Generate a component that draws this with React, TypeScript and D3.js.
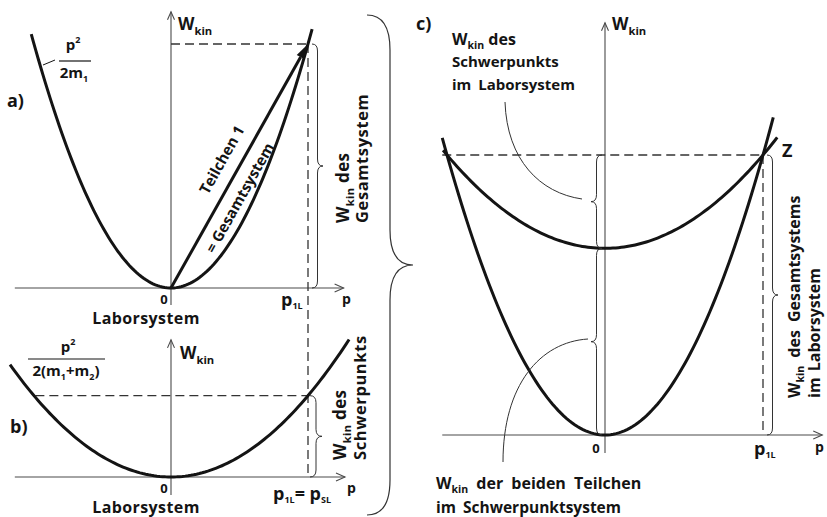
import React from 'react';
import * as d3 from 'd3';

// Masses of the two particles (m1 moving, m2 at rest) and lab momentum of particle 1
const masses = [1, 2];
const P1L = 1;

// Momentum ranges over which each parabola is drawn
const domainA = [-1.02, 1.03];
const domainB = [-1.175, 1.3];
const domainCLab = [-1.03, 1.065];
const domainCCm = [-1.025, 1.09];

// Axis extents (momentum / energy units)
const axisA = { p: [-1.14, 1.26], w: [-0.035, 0.566] };
const axisB = { p: [-1.14, 1.27], w: [-0.037, 0.281] };
const axisC = { p: [-1.03, 1.375], w: [-0.032, 0.736] };
const dashStartB = -0.99;

const panelLabels = ['a)', 'b)', 'c)'];

const m1 = masses[0];
const M = masses[0] + masses[1];
const wLab = (p: number) => (p * p) / (2 * m1);
const wCm = (p: number) => (p * p) / (2 * M);
const W1 = wLab(P1L);
const WS = wCm(P1L);
const Erel = W1 - WS;

const xA = d3.scaleLinear().domain([0, P1L]).range([171, 308]);
const yA = d3.scaleLinear().domain([0, W1]).range([288, 44]);
const xB = xA;
const yB = d3.scaleLinear().domain([0, W1]).range([477, 233]);
const xC = d3.scaleLinear().domain([0, P1L]).range([605, 763]);
const yC = d3.scaleLinear().domain([0, W1]).range([435, 155]);

const sample = (d: number[], n = 120) => d3.range(n + 1).map((i) => d[0] + ((d[1] - d[0]) * i) / n);

const curve = (
  xs: d3.ScaleLinear<number, number>,
  ys: d3.ScaleLinear<number, number>,
  f: (p: number) => number,
  d: number[]
) =>
  d3
    .line<number>()
    .x((p) => xs(p))
    .y((p) => ys(f(p)))(sample(d)) as string;

function bracePath(x: number, y1: number, y2: number, w: number, r = 7) {
  const m = (y1 + y2) / 2;
  const h = w / 2;
  return `M${x},${y1} Q${x + h},${y1} ${x + h},${y1 + r} L${x + h},${m - r} Q${x + h},${m} ${x + w},${m} Q${x + h},${m} ${x + h},${m + r} L${x + h},${y2 - r} Q${x + h},${y2} ${x},${y2}`;
}

const INK = '#141414';
const AXIS = '#4a4a4a';
const FONT = "'Open Sans', 'DejaVu Sans', sans-serif";

function Axes({ xs, ys, ax }: { xs: any; ys: any; ax: { p: number[]; w: number[] } }) {
  const x0 = xs(0);
  const y0 = ys(0);
  const left = xs(ax.p[0]);
  const right = xs(ax.p[1]);
  const top = ys(ax.w[1]);
  const bottom = ys(ax.w[0]);
  return (
    <g stroke={AXIS} strokeWidth={1.1} fill="none">
      <line x1={left} y1={y0} x2={right} y2={y0} />
      <path d={`M${right - 9},${y0 - 4} L${right},${y0} L${right - 9},${y0 + 4}`} />
      <line x1={x0} y1={bottom} x2={x0} y2={top} />
      <path d={`M${x0 - 3.5},${top + 8} L${x0},${top} L${x0 + 3.5},${top + 8}`} />
    </g>
  );
}

function Wkin({ x, y, size = 17, anchor = 'start', rest = '', ls = 0, ws = 0 }: any) {
  return (
    <text x={x} y={y} fontSize={size} textAnchor={anchor} letterSpacing={ls} wordSpacing={ws}>
      <tspan>W</tspan>
      <tspan dy={size * 0.28} fontSize={size * 0.66}>kin</tspan>
      {rest ? <tspan dy={-size * 0.28}>{rest}</tspan> : null}
    </text>
  );
}

export default function App() {
  const arrowEnd = [xA(P1L), yA(W1)];
  const arrowStart = [xA(0), yA(0)];
  const ang = Math.atan2(arrowEnd[1] - arrowStart[1], arrowEnd[0] - arrowStart[0]);
  const headLen = 15;
  const headW = 4.5;
  const hb = [arrowEnd[0] - headLen * Math.cos(ang), arrowEnd[1] - headLen * Math.sin(ang)];
  const head = `M${arrowEnd[0]},${arrowEnd[1]} L${hb[0] + headW * Math.sin(ang)},${hb[1] - headW * Math.cos(ang)} L${hb[0] - headW * Math.sin(ang)},${hb[1] + headW * Math.cos(ang)} Z`;
  const angDeg = (ang * 180) / Math.PI;

  return (
    <svg
      width={827}
      height={517}
      style={{ position: 'absolute', left: 0, top: 0, background: '#fff' }}
      fontFamily={FONT}
      fontWeight={700}
      fill={INK}
    >
      {/* ---------- Panel a ---------- */}
      <Axes xs={xA} ys={yA} ax={axisA} />
      <g stroke="#333" strokeWidth={1.3} strokeDasharray="9,5" fill="none">
        <line x1={xA(0)} y1={yA(W1)} x2={xA(P1L)} y2={yA(W1)} />
        <line x1={xA(P1L)} y1={yA(W1)} x2={xA(P1L)} y2={yB(0)} />
      </g>
      <path d={curve(xA, yA, wLab, domainA)} stroke={INK} strokeWidth={3} fill="none" />
      <line x1={arrowStart[0]} y1={arrowStart[1]} x2={hb[0]} y2={hb[1]} stroke={INK} strokeWidth={3} />
      <path d={head} fill={INK} />
      <path d={bracePath(312, yA(W1), yA(0), 11)} stroke="#333" strokeWidth={1} fill="none" />
      <text x={7} y={107} fontSize={18}>{panelLabels[0]}</text>
      <Wkin x={178} y={30} />
      <text x={73} y={50} fontSize={15} textAnchor="middle">
        p<tspan dy={-7} fontSize={9}>2</tspan>
      </text>
      <line x1={59} y1={61} x2={91} y2={61} stroke={INK} strokeWidth={1.2} />
      <text x={74} y={78} fontSize={15} textAnchor="middle">
        2m<tspan dy={4} fontSize={9}>1</tspan>
      </text>
      <line x1={43} y1={65} x2={55} y2={60} stroke={INK} strokeWidth={1} />
      <text x={164} y={304} fontSize={13} textAnchor="middle">0</text>
      <text x={281} y={306} fontSize={18}>
        p<tspan dy={3} fontSize={9}>1L</tspan>
      </text>
      <text x={342} y={304} fontSize={14}>p</text>
      <text x={146} y={324} fontSize={16} letterSpacing={0.4} textAnchor="middle">Laborsystem</text>
      <g transform="rotate(-90,349,223)">
        <Wkin x={349} y={223} size={17} rest=" des" ls={0.3} />
      </g>
      <text x={368} y={223} fontSize={16.5} letterSpacing={0.6} transform="rotate(-90,368,223)">Gesamtsystem</text>
      <g transform={`translate(222,160) rotate(${angDeg})`}>
        <text x={0} y={5} fontSize={15} textAnchor="middle">Teilchen 1</text>
      </g>
      <g transform={`translate(240,198) rotate(${angDeg})`}>
        <text x={0} y={5} fontSize={15} textAnchor="middle">= Gesamtsystem</text>
      </g>

      {/* ---------- Panel b ---------- */}
      <Axes xs={xB} ys={yB} ax={axisB} />
      <line
        x1={xB(dashStartB)}
        y1={yB(WS)}
        x2={xB(P1L)}
        y2={yB(WS)}
        stroke="#333"
        strokeWidth={1.3}
        strokeDasharray="9,5"
      />
      <path d={curve(xB, yB, wCm, domainB)} stroke={INK} strokeWidth={3} fill="none" />
      <path d={bracePath(310, yB(WS), yB(0), 12)} stroke="#333" strokeWidth={1} fill="none" />
      <text x={10} y={433} fontSize={18}>{panelLabels[1]}</text>
      <Wkin x={180} y={359} />
      <text x={68} y={352} fontSize={15} textAnchor="middle">
        p<tspan dy={-7} fontSize={9}>2</tspan>
      </text>
      <line x1={28} y1={359} x2={105} y2={359} stroke={INK} strokeWidth={1.2} />
      <text x={66} y={376} fontSize={15} textAnchor="middle">
        2(m<tspan dy={4} fontSize={9}>1</tspan>
        <tspan dy={-4}>+m</tspan>
        <tspan dy={4} fontSize={9}>2</tspan>
        <tspan dy={-4}>)</tspan>
      </text>
      <text x={164} y={493} fontSize={13} textAnchor="middle">0</text>
      <text x={273} y={500} fontSize={18}>
        p<tspan dy={3} fontSize={9}>1L</tspan>
        <tspan dy={-3}>= p</tspan>
        <tspan dy={3} fontSize={9}>SL</tspan>
      </text>
      <text x={347} y={493} fontSize={14}>p</text>
      <text x={146} y={513} fontSize={16} letterSpacing={0.4} textAnchor="middle">Laborsystem</text>
      <g transform="rotate(-90,346,460)">
        <Wkin x={346} y={460} size={17} rest=" des" ls={0.3} />
      </g>
      <text x={366} y={460} fontSize={16.5} letterSpacing={0.6} transform="rotate(-90,366,460)">Schwerpunkts</text>

      {/* ---------- Connecting brace ---------- */}
      <path d={bracePath(367, 15, 515, 46, 35)} stroke="#333" strokeWidth={1.2} fill="none" />

      {/* ---------- Panel c ---------- */}
      <Axes xs={xC} ys={yC} ax={axisC} />
      <g stroke="#333" strokeWidth={1.3} strokeDasharray="9,5" fill="none">
        <line x1={xC(domainCLab[0])} y1={yC(W1)} x2={xC(P1L)} y2={yC(W1)} />
        <line x1={xC(P1L)} y1={yC(W1)} x2={xC(P1L)} y2={yC(0)} />
      </g>
      <path d={curve(xC, yC, wLab, domainCLab)} stroke={INK} strokeWidth={3} fill="none" />
      <path d={curve(xC, yC, (p) => Erel + wCm(p), domainCCm)} stroke={INK} strokeWidth={3} fill="none" />
      <g stroke="#333" strokeWidth={1} fill="none">
        <path d={bracePath(602, yC(W1), yC(Erel), -11)} />
        <path d={bracePath(602, yC(Erel), yC(0), -11)} />
        <path d={bracePath(767, yC(W1), yC(0), 11)} />
        <path d="M505,102 C507,160 540,193 582,199" />
        <path d="M503,462 C503,385 540,342 588,339" />
      </g>
      <text x={416} y={30} fontSize={18}>{panelLabels[2]}</text>
      <Wkin x={612} y={30} />
      <g fontSize={15} wordSpacing={3}>
        <Wkin x={452} y={45} size={16} rest=" des" />
        <text x={452} y={67}>Schwerpunkts</text>
        <text x={452} y={90}>im Laborsystem</text>
      </g>
      <text x={782} y={157} fontSize={18}>Z</text>
      <text x={596} y={453} fontSize={13} textAnchor="middle">0</text>
      <text x={754} y={455} fontSize={18}>
        p<tspan dy={3} fontSize={9}>1L</tspan>
      </text>
      <text x={815} y={452} fontSize={14}>p</text>
      <g transform="rotate(-90,800,398)">
        <Wkin x={800} y={398} size={16} rest=" des Gesamtsystems" ws={4} />
      </g>
      <text x={820} y={398} fontSize={16} wordSpacing={2} transform="rotate(-90,820,398)">
        im Laborsystem
      </text>
      <Wkin x={436} y={489} size={16} rest=" der beiden Teilchen" ws={4} />
      <text x={436} y={513} fontSize={15.5} wordSpacing={3}>im Schwerpunktsystem</text>
    </svg>
  );
}
